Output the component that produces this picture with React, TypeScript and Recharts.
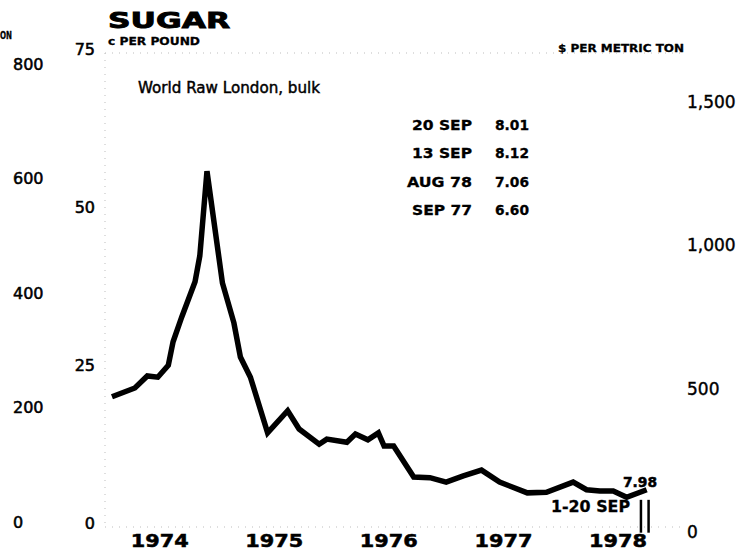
import React from 'react';
import { LineChart, Line, XAxis, YAxis, ReferenceLine, Customized } from 'recharts';

// Month position (months after the first observation, Jan 1974) and price in cents per pound
const monthPos = [0, 2.4, 3.7, 4.8, 5.9, 6.4, 7.3, 8.7, 9.2, 9.95, 11.57, 12.77, 13.45, 14.5, 16.3, 18.4, 19.6, 21.7, 22.5, 24.6, 25.5, 26.8, 27.9, 28.5, 29.5, 31.6, 33.3, 35.0, 36.8, 38.7, 40.6, 43.5, 45.5, 48.3, 49.7, 51.1, 52.5, 53.9, 56.0];
const centsPerPound = [20.6, 22.0, 23.9, 23.7, 25.6, 29.3, 33.2, 38.8, 42.9, 56.3, 38.6, 32.3, 26.9, 23.7, 14.9, 18.4, 15.5, 13.1, 13.9, 13.4, 14.7, 13.8, 14.9, 12.8, 12.8, 7.9, 7.8, 7.1, 8.1, 9.0, 7.1, 5.4, 5.5, 7.1, 5.9, 5.7, 5.7, 4.7, 5.9];

const yearLabels = ['1974', '1975', '1976', '1977', '1978'];
const yearTicks = [5, 17, 29, 41, 53];
const centTicks = [0, 25, 50, 75];
const tonTicks = [0, 500, 1000, 1500];
const farTicks = [0, 200, 400, 600, 800];

const legendLabels = ['20 SEP', '13 SEP', 'AUG 78', 'SEP 77'];
const legendValues = ['8.01', '8.12', '7.06', '6.60'];
const latestValue = '7.98';
const latestPeriod = '1-20 SEP';
const sepMarkerX = [55.4, 56.2];
const sepMarkerRange = [-0.9, 4.3];

const data = monthPos.map((t, i) => ({ t, v: centsPerPound[i] }));

const FONT = 'DejaVu Sans';
const dotted = { stroke: '#bdbdbd', strokeDasharray: '1 6', strokeWidth: 1 };

type TP = { x: number; y: number; size: number; len?: number; anchor?: 'start' | 'end' | 'middle'; bold?: boolean; extra?: number; children: React.ReactNode };
const T = ({ x, y, size, len, anchor = 'start', bold = true, extra, children }: TP) => (
  <text
    x={x}
    y={y}
    fontSize={size}
    fontFamily={FONT}
    fontWeight={bold ? 'bold' : 'normal'}
    textAnchor={anchor}
    dominantBaseline="central"
    textLength={len}
    lengthAdjust={len ? 'spacingAndGlyphs' : undefined}
    fill="#000"
    stroke="#000"
    strokeWidth={extra ?? (bold ? 0.3 : 0.55)}
  >
    {children}
  </text>
);

const YearTick = (p: any) => (
  <T x={p.x} y={p.y + 13.5} size={18} len={58} anchor="middle" extra={0.5}>
    {yearLabels[yearTicks.indexOf(p.payload.value)]}
  </T>
);
const CentTick = (p: any) => (
  <T x={p.x} y={p.y - 4} size={16} anchor="end" bold={false}>
    {p.payload.value}
  </T>
);
const TonTick = (p: any) => (
  <T x={p.x} y={p.y + 5} size={17} anchor="start" bold={false} extra={0.4}>
    {p.payload.value.toLocaleString('en-US')}
  </T>
);
const FarTick = (p: any) => (
  <T x={p.x} y={p.y - 5} size={16} anchor="start" bold={false}>
    {p.payload.value}
  </T>
);

const Annotations = () => (
  <g>
    <T x={0} y={35} size={10} len={12}>ON</T>
    <T x={108} y={20} size={22} len={122} extra={0.9}>SUGAR</T>
    <T x={108} y={41} size={11} len={92}>c PER POUND</T>
    <T x={558} y={48} size={11} len={126}>$ PER METRIC TON</T>
    <T x={138} y={88} size={15} len={182} bold={false} extra={0.45}>World Raw London, bulk</T>
    {legendLabels.map((l, i) => (
      <T key={l} x={472} y={125 + 28.3 * i} size={14} len={l === 'AUG 78' ? 65 : 60} anchor="end">{l}</T>
    ))}
    {legendValues.map((v, i) => (
      <T key={v} x={495} y={125 + 28.3 * i} size={14} len={34}>{v}</T>
    ))}
    <T x={623} y={482} size={14} len={34} extra={0.5}>{latestValue}</T>
    <T x={551} y={507} size={15} len={79}>{latestPeriod}</T>
  </g>
);

export default function App() {
  return (
    <div style={{ position: 'absolute', left: 0, top: 0, width: 754, height: 551, background: '#fff' }}>
      <LineChart width={754} height={551} data={data} margin={{ top: 53, right: 0, bottom: 0, left: 0 }}>
        <XAxis
          dataKey="t"
          type="number"
          domain={[-0.73, 59.7]}
          ticks={yearTicks}
          allowDataOverflow
          height={24}
          tickLine={false}
          tickSize={0}
          tickMargin={0}
          axisLine={dotted}
          tick={<YearTick />}
          interval={0}
        />
        <YAxis
          yAxisId="c"
          orientation="left"
          width={40}
          domain={[0, 75]}
          ticks={centTicks}
          allowDataOverflow
          tickLine={false}
          tickSize={0}
          tickMargin={10}
          axisLine={dotted}
          tick={<CentTick />}
          interval={0}
        />
        <YAxis
          yAxisId="far"
          orientation="left"
          width={65}
          domain={[0, 829]}
          ticks={farTicks}
          allowDataOverflow
          tickLine={false}
          tickSize={0}
          tickMargin={52}
          axisLine={false}
          tick={<FarTick />}
          interval={0}
        />
        <YAxis
          yAxisId="ton"
          orientation="right"
          width={72}
          domain={[0, 1653.5]}
          ticks={tonTicks}
          allowDataOverflow
          tickLine={false}
          tickSize={0}
          tickMargin={5}
          axisLine={false}
          tick={<TonTick />}
          interval={0}
        />
        <ReferenceLine yAxisId="c" y={75} {...dotted} />
        {sepMarkerX.map((mx) => (
          <ReferenceLine
            key={mx}
            yAxisId="c"
            ifOverflow="visible"
            segment={[{ x: mx, y: sepMarkerRange[0] }, { x: mx, y: sepMarkerRange[1] }]}
            stroke="#000"
            strokeWidth={2.5}
          />
        ))}
        <Line
          yAxisId="c"
          dataKey="v"
          type="linear"
          stroke="#000"
          strokeWidth={5.5}
          strokeLinejoin="miter"
          dot={false}
          isAnimationActive={false}
        />
        <Customized component={Annotations} />
      </LineChart>
    </div>
  );
}
